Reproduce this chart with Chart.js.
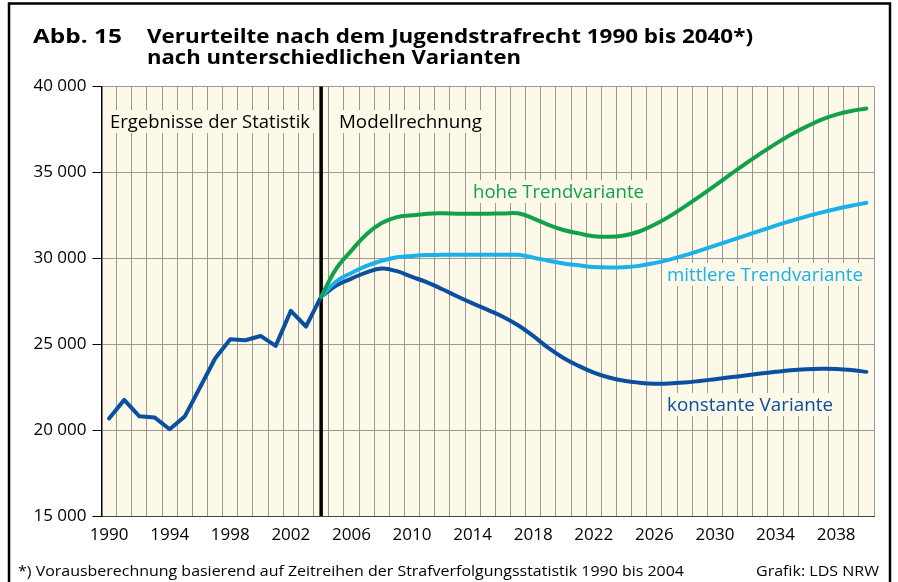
<!DOCTYPE html>
<html><head><meta charset="utf-8">
<script src="https://cdn.jsdelivr.net/npm/chart.js@4/dist/chart.umd.min.js"></script>
<style>html,body{margin:0;padding:0;background:#fff}canvas{display:block}</style>
</head><body>
<canvas id="c" width="898" height="582"></canvas>
<script>
// ---- data ----
const years = ['1990','1991','1992','1993','1994','1995','1996','1997','1998','1999','2000','2001','2002','2003','2004','2005','2006','2007','2008','2009','2010','2011','2012','2013','2014','2015','2016','2017','2018','2019','2020','2021','2022','2023','2024','2025','2026','2027','2028','2029','2030','2031','2032','2033','2034','2035','2036','2037','2038','2039','2040'];
// Ergebnisse der Statistik 1990-2004
const statistik = [20680,21760,20800,20740,20050,20800,22480,24170,25290,25230,25480,24900,26940,26030,27770];
// Modellrechnung 2004-2040
const hoheTrend = [27770,29400,30450,31400,32050,32400,32500,32600,32620,32600,32600,32600,32610,32620,32330,31950,31650,31450,31290,31250,31330,31560,31950,32440,33010,33610,34230,34870,35500,36090,36660,37190,37650,38060,38360,38570,38720];
const mittlereTrend = [27770,28650,29150,29560,29860,30060,30140,30190,30200,30200,30200,30200,30200,30200,30040,29860,29700,29590,29490,29460,29480,29560,29720,29920,30170,30450,30740,31030,31320,31610,31900,32170,32430,32660,32870,33060,33230];
const konstant = [27770,28420,28820,29180,29400,29250,28920,28600,28200,27780,27380,27000,26600,26100,25480,24780,24200,23740,23350,23060,22870,22760,22700,22710,22770,22860,22960,23070,23180,23290,23390,23480,23540,23570,23560,23500,23390];
const yTicks = [15000,20000,25000,30000,35000,40000];
const startModel = '2004';

const COL_GREEN = '#12a14b', COL_LIGHT = '#1ab0ea', COL_DARK = '#0b4fa0';
const CREAM = '#fdf9e8';
const FONT = '"Open Sans", "Noto Sans", sans-serif';

const pad = (arr) => { const n = years.indexOf(startModel); return Array(n).fill(null).concat(arr); };
const histFull = statistik.concat(Array(years.length - statistik.length).fill(null));

function fitText(ctx, text, x, y, w, font, color, align) {
  ctx.save();
  ctx.font = font; ctx.fillStyle = color; ctx.textBaseline = 'alphabetic'; ctx.textAlign = 'left';
  const m = ctx.measureText(text).width;
  const s = w / m;
  let x0 = x;
  if (align === 'right') x0 = x - w;
  ctx.translate(x0, y); ctx.scale(s, 1);
  ctx.fillText(text, 0, 0);
  ctx.restore();
}

const decor = {
  id: 'decor',
  beforeDraw(chart) {
    const {ctx, chartArea: a} = chart;
    ctx.save();
    ctx.fillStyle = '#fff'; ctx.fillRect(0, 0, chart.width, chart.height);
    ctx.fillStyle = CREAM; ctx.fillRect(a.left, a.top, a.right - a.left, a.bottom - a.top);
    // frame
    ctx.strokeStyle = '#000'; ctx.lineWidth = 2.5;
    ctx.beginPath(); ctx.moveTo(9, 600); ctx.lineTo(9, 3.5); ctx.lineTo(890, 3.5); ctx.lineTo(890, 600); ctx.stroke();
    ctx.restore();
    // title
    fitText(ctx, 'Abb. 15', 33, 43, 89, 'bold 20px ' + FONT, '#000');
    fitText(ctx, 'Verurteilte nach dem Jugendstrafrecht 1990 bis 2040*)', 147, 43, 606, 'bold 20px ' + FONT, '#000');
    fitText(ctx, 'nach unterschiedlichen Varianten', 147, 64, 374, 'bold 20px ' + FONT, '#000');
    // footer
    fitText(ctx, '*) Vorausberechnung basierend auf Zeitreihen der Strafverfolgungsstatistik 1990 bis 2004', 18, 576, 666, '15px ' + FONT, '#000');
    fitText(ctx, 'Grafik: LDS NRW', 879, 576, 123, '15px ' + FONT, '#000', 'right');
  },
  beforeDatasetsDraw(chart) {
    const {ctx, chartArea: a, scales: {x}} = chart;
    const labels = [
      ['Ergebnisse der Statistik', 110, 128, 200, '#000'],
      ['Modellrechnung', 339, 128, 143, '#000'],
      ['hohe Trendvariante', 473, 198, 171, COL_GREEN],
      ['mittlere Trendvariante', 667, 281, 196, COL_LIGHT],
      ['konstante Variante', 667, 411, 166, COL_DARK],
    ];
    ctx.save();
    ctx.fillStyle = CREAM;
    labels.forEach(l => ctx.fillRect(l[1] - 4, l[2] - 18, l[3] + 8, 23));
    ctx.restore();
    labels.forEach(l => fitText(ctx, l[0], l[1], l[2], l[3], '18px ' + FONT, l[4]));
    // separator line at start of Modellrechnung
    const xs = x.getPixelForValue(years.indexOf(startModel));
    ctx.save();
    ctx.strokeStyle = '#000'; ctx.lineWidth = 3.5;
    ctx.beginPath(); ctx.moveTo(xs, a.top); ctx.lineTo(xs, a.bottom); ctx.stroke();
    ctx.restore();
  }
};

const common = { fill: false, pointRadius: 0, borderWidth: 4, spanGaps: false, borderJoinStyle: 'round', borderCapStyle: 'round' };

new Chart(document.getElementById('c'), {
  type: 'line',
  data: {
    labels: years,
    datasets: [
      Object.assign({ label: 'hohe Trendvariante', data: pad(hoheTrend), borderColor: COL_GREEN, tension: 0.4 }, common),
      Object.assign({ label: 'mittlere Trendvariante', data: pad(mittlereTrend), borderColor: COL_LIGHT, tension: 0.4 }, common),
      Object.assign({ label: 'konstante Variante', data: pad(konstant), borderColor: COL_DARK, tension: 0.4 }, common),
      Object.assign({ label: 'Ergebnisse der Statistik', data: histFull, borderColor: COL_DARK, tension: 0 }, common),
    ]
  },
  options: {
    responsive: false, animation: false,
    devicePixelRatio: 1,
    layout: { padding: { left: 0, top: 86.5, right: 24, bottom: 36 } },
    plugins: { legend: { display: false }, tooltip: { enabled: false }, title: { display: false } },
    scales: {
      x: {
        type: 'category', offset: true,
        afterFit: s => { s.height = 30; },
        grid: { offset: true, color: '#9a9893', lineWidth: 1, drawTicks: false },
        border: { color: '#444', width: 1 },
        ticks: { autoSkip: false, maxRotation: 0, padding: 9, color: '#000', font: { family: FONT, size: 17 },
          callback: (v, i) => (i % 4 === 0 ? years[i] : '') }
      },
      y: {
        min: yTicks[0], max: yTicks[yTicks.length - 1],
        afterFit: s => { s.width = 101.5; },
        afterBuildTicks: s => { s.ticks = yTicks.map(v => ({ value: v })); },
        grid: { color: '#9a9893', lineWidth: 1, tickColor: '#000', tickLength: 9 },
        border: { color: '#000', width: 1.5 },
        ticks: { padding: 6, color: '#000', font: { family: FONT, size: 17 },
          callback: v => String(v).replace(/\B(?=(\d{3})+(?!\d))/g, ' ') }
      }
    }
  },
  plugins: [decor]
});
</script>
</body></html>
